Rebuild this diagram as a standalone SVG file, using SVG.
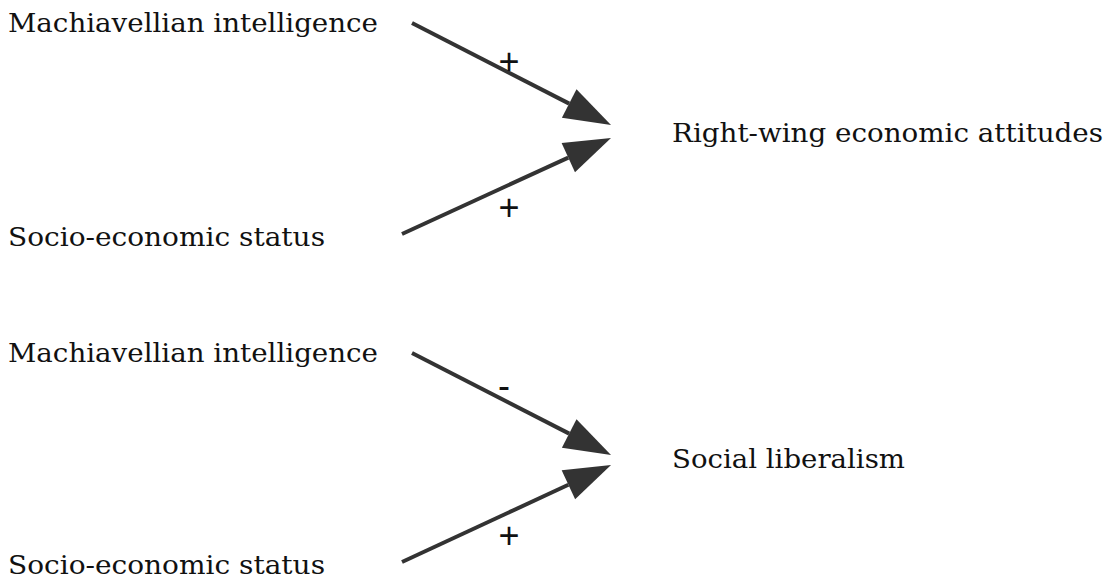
<svg xmlns="http://www.w3.org/2000/svg" width="1112" height="588" viewBox="0 0 1112 588">
<style>
.node{font-family:"DejaVu Serif","Liberation Serif",serif;font-size:26px;fill:#111}
.edge{stroke:#333;stroke-width:4;fill:none;marker-end:url(#ah)}
.lbl{font-family:"Liberation Sans",Arial,sans-serif;font-size:36px;fill:#111;text-anchor:middle}
</style>
<defs>
<marker id="ah" markerUnits="userSpaceOnUse" markerWidth="48" markerHeight="34" refX="0" refY="16" orient="auto" overflow="visible">
<path d="M0,0 L47,16 L0,32 Z" fill="#333"/>
</marker>
</defs>
<rect width="1112" height="588" fill="#fff"/>
<g id="n-mach1"><text class="node" x="8" y="32" textLength="370" lengthAdjust="spacingAndGlyphs">Machiavellian intelligence</text></g>
<g id="n-ses1"><text class="node" x="8" y="246" textLength="317" lengthAdjust="spacingAndGlyphs">Socio-economic status</text></g>
<g id="n-right"><text class="node" x="672" y="142" textLength="431" lengthAdjust="spacingAndGlyphs">Right-wing economic attitudes</text></g>
<g id="n-mach2"><text class="node" x="8" y="362" textLength="370" lengthAdjust="spacingAndGlyphs">Machiavellian intelligence</text></g>
<g id="n-ses2"><text class="node" x="8" y="574" textLength="317" lengthAdjust="spacingAndGlyphs">Socio-economic status</text></g>
<g id="n-social"><text class="node" x="672" y="468" textLength="233" lengthAdjust="spacingAndGlyphs">Social liberalism</text></g>
<g id="connectors">
<line class="edge" x1="412" y1="23" x2="569.2" y2="103.6"/>
<line class="edge" x1="402" y1="234" x2="568.3" y2="157.6"/>
<line class="edge" x1="412" y1="353" x2="569.2" y2="433.6"/>
<line class="edge" x1="402" y1="562" x2="568.4" y2="484.8"/>
<text class="lbl" x="509" y="74">+</text>
<text class="lbl" x="509" y="220">+</text>
<text class="lbl" x="504" y="398">-</text>
<text class="lbl" x="509" y="548">+</text>
</g>
</svg>
